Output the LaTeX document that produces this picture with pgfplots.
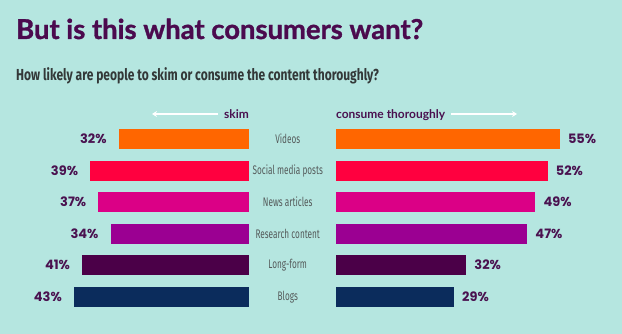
\documentclass[border=0pt]{standalone}
\usepackage{pgfplots}
\pgfplotsset{compat=1.18}
\usetikzlibrary{arrows.meta}
\usepackage{fontspec}
\setmainfont{Lato}
\newfontfamily\titlefont{Lato}[FakeBold=1.2]
\newfontfamily\popfont{Poppins}
\newfontfamily\condfont{Fira Sans}[FakeStretch=0.66]
\newfontfamily\subfont{Fira Sans}[FakeStretch=0.755]
\definecolor{bgc}{HTML}{B5E6E0}
\definecolor{titlec}{HTML}{4B0A4E}
\definecolor{pctc}{HTML}{4A1250}
\definecolor{catc}{HTML}{555B5B}
\definecolor{subc}{HTML}{333838}
\definecolor{c1}{HTML}{FF6600}
\definecolor{c2}{HTML}{FF003F}
\definecolor{c3}{HTML}{DB0086}
\definecolor{c4}{HTML}{9B0092}
\definecolor{c5}{HTML}{4B0048}
\definecolor{c6}{HTML}{0B2C5C}
\pgfplotsset{
  bfly/.style={
    scale only axis, width=244.2bp, height=189bp,
    xmin=0, xmax=60, ymin=-0.5, ymax=5.5, y dir=reverse,
    xbar, bar width=19.7bp, bar shift=0pt,
    axis line style={draw=none}, tick style={draw=none},
    xtick=\empty, clip=false,
    point meta=x,
    nodes near coords={\pgfmathprintnumber[assume math mode=true]{\pgfplotspointmeta}\%},
  }
}
\begin{document}
\begin{tikzpicture}
\fill[bgc] (0bp,0bp) rectangle (622bp,334bp);
\node[anchor=base west, inner sep=0, text=titlec, font=\titlefont\bfseries\fontsize{27.5}{32}\selectfont] at (16bp,295bp) {But is this what consumers want?};
\node[anchor=base west, inner sep=0, text=subc, font=\subfont\bfseries\fontsize{16}{19}\selectfont] at (16bp,253bp) {How likely are people to skim or consume the content thoroughly?};
\node[anchor=base east, inner sep=0, text=pctc, font=\bfseries\fontsize{12}{14}\selectfont] at (249bp,215.7bp) {skim};
\node[anchor=base west, inner sep=0, text=pctc, font=\bfseries\fontsize{12}{14}\selectfont] at (336bp,215.7bp) {consume thoroughly};
\draw[white, line width=1.2bp, -{Stealth[length=5bp,width=6bp]}] (218bp,220bp) -- (152bp,220bp);
\draw[white, line width=1.2bp, -{Stealth[length=5bp,width=6bp]}] (451bp,220bp) -- (517bp,220bp);

\begin{axis}[bfly, at={(4.8bp,21.55bp)}, x dir=reverse, ytick=\empty,
  every node near coord/.append style={anchor=east, inner sep=0pt, xshift=-12bp, text=pctc, font=\popfont\bfseries\fontsize{13}{15}\selectfont}]
\addplot[fill=c1, draw=none] coordinates {(32,0)};
\addplot[fill=c2, draw=none] coordinates {(39,1)};
\addplot[fill=c3, draw=none] coordinates {(37,2)};
\addplot[fill=c4, draw=none] coordinates {(34,3)};
\addplot[fill=c5, draw=none] coordinates {(41,4)};
\addplot[fill=c6, draw=none] coordinates {(43,5)};
\end{axis}

\begin{axis}[bfly, at={(336bp,21.55bp)},
  ytick={0,...,5},
  yticklabels={Videos, Social media posts, News articles, Research content, Long-form, Blogs},
  yticklabel style={anchor=center, xshift=-44bp, text=catc, font=\condfont\fontsize{12.5}{14}\selectfont},
  every node near coord/.append style={anchor=west, inner sep=0pt, xshift=8bp, text=pctc, font=\popfont\bfseries\fontsize{13}{15}\selectfont}]
\addplot[fill=c1, draw=none] coordinates {(55,0)};
\addplot[fill=c2, draw=none] coordinates {(52,1)};
\addplot[fill=c3, draw=none] coordinates {(49,2)};
\addplot[fill=c4, draw=none] coordinates {(47,3)};
\addplot[fill=c5, draw=none] coordinates {(32,4)};
\addplot[fill=c6, draw=none] coordinates {(29,5)};
\end{axis}
\end{tikzpicture}
\end{document}
